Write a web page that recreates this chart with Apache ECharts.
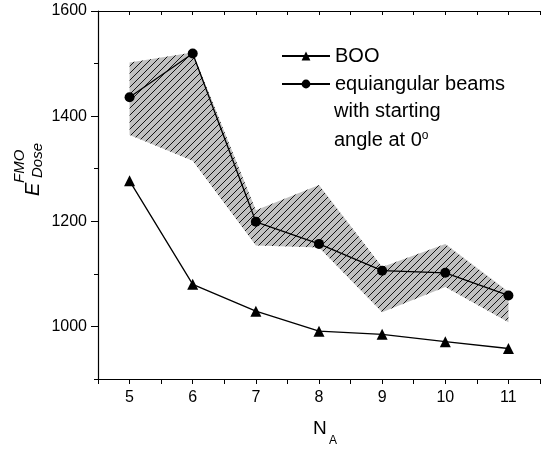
<!DOCTYPE html>
<html>
<head>
<meta charset="utf-8">
<script src="https://cdn.jsdelivr.net/npm/echarts@6/dist/echarts.min.js"></script>
<style>
  html, body { margin: 0; padding: 0; background: #fff; }
  #chart { width: 543px; height: 449px; }
</style>
</head>
<body>
<div id="chart"></div>
<script>
var nA = [5, 6, 7, 8, 9, 10, 11];
var boo = [1277, 1080, 1029, 991, 985, 971, 958];
var equi = [1436, 1519, 1199, 1157, 1106, 1102, 1059];
var bandLow = [1364, 1315, 1154, 1150, 1027, 1075, 1008];
var bandHigh = [1502, 1521, 1221, 1269, 1113, 1157, 1066];
var yMajor = [1000, 1200, 1400, 1600];

var font = "Arial, 'Liberation Sans', sans-serif";

// hatch pattern for the band
var pat = document.createElement("canvas");
pat.width = 7;
pat.height = 7;
var ctx = pat.getContext("2d");
ctx.fillStyle = "#c0c0c0";
ctx.fillRect(0, 0, 7, 7);
ctx.strokeStyle = "#000";
ctx.lineWidth = 0.9;
ctx.beginPath();
ctx.moveTo(-1, 8); ctx.lineTo(8, -1);
ctx.moveTo(-1, 1); ctx.lineTo(1, -1);
ctx.moveTo(6, 8); ctx.lineTo(8, 6);
ctx.stroke();

function pairs(ys) {
  return nA.map(function (x, i) { return [x, ys[i]]; });
}

function renderBand(params, api) {
  if (params.dataIndex !== 0) return;
  var pts = [];
  for (var i = 0; i < nA.length; i++) pts.push(api.coord([nA[i], bandHigh[i]]));
  for (var j = nA.length - 1; j >= 0; j--) pts.push(api.coord([nA[j], bandLow[j]]));
  return {
    type: "polygon",
    shape: { points: pts },
    style: { fill: { image: pat, repeat: "repeat" }, stroke: null }
  };
}

var myChart = echarts.init(document.getElementById("chart"));
myChart.setOption({
  animation: false,
  grid: { left: 98, top: 11, right: -8, bottom: 70 },
  xAxis: [
    {
      type: "value", min: 4.5, max: 11.5, interval: 0.5,
      axisLine: { lineStyle: { color: "#000", width: 1.2 } },
      axisTick: { inside: false, length: 5, lineStyle: { color: "#000" } },
      axisLabel: {
        margin: 11, fontSize: 16, color: "#000", fontFamily: font,
        formatter: function (v) { return v % 1 === 0 ? String(v) : ""; }
      },
      splitLine: { show: false }
    },
    {
      type: "value", position: "top", min: 4.5, max: 11.5, interval: 0.5,
      axisLine: { lineStyle: { color: "#000", width: 1.2 } },
      axisTick: { inside: true, length: 4, lineStyle: { color: "#000" } },
      axisLabel: { show: false },
      splitLine: { show: false }
    }
  ],
  yAxis: [
    {
      type: "value", min: 900, max: 1600, interval: 100,
      axisLine: { show: true, lineStyle: { color: "#000", width: 1.2 } },
      axisTick: { show: true, length: 7, customValues: yMajor, lineStyle: { color: "#000" } },
      axisLabel: {
        margin: 11, fontSize: 16, color: "#000", fontFamily: font,
        customValues: yMajor,
        formatter: function (v) { return String(v); }
      },
      splitLine: { show: false }
    },
    {
      type: "value", min: 900, max: 1600, interval: 100, position: "left",
      axisLine: { show: false },
      axisTick: { show: true, length: 4, lineStyle: { color: "#000" } },
      axisLabel: { show: false },
      splitLine: { show: false }
    }
  ],
  legend: {
    orient: "vertical", left: 276, top: 41,
    itemWidth: 48, itemHeight: 11, itemGap: 8,
    textStyle: { fontSize: 20, color: "#000", fontFamily: font },
    data: ["BOO", "equiangular beams"]
  },
  series: [
    {
      name: "band", type: "custom", data: pairs(bandHigh),
      encode: { x: 0, y: 1 }, renderItem: renderBand, silent: true, z: 1
    },
    {
      name: "BOO", type: "line", data: pairs(boo),
      symbol: "triangle", symbolSize: 11,
      itemStyle: { color: "#000" }, lineStyle: { color: "#000", width: 1.3 }, z: 3
    },
    {
      name: "equiangular beams", type: "line", data: pairs(equi),
      symbol: "circle", symbolSize: 10,
      itemStyle: { color: "#000" }, lineStyle: { color: "#000", width: 1.3 }, z: 3
    }
  ],
  graphic: [
    {
      type: "text", left: 334, top: 101,
      style: { text: "with starting", fontSize: 20, fill: "#000", fontFamily: font }
    },
    {
      type: "text", left: 334, top: 130,
      style: {
        text: "{a|angle at 0}{s|o}",
        rich: {
          a: { fontSize: 20, fill: "#000", fontFamily: font, verticalAlign: "bottom" },
          s: { fontSize: 12, fill: "#000", fontFamily: font, verticalAlign: "top" }
        }
      }
    },
    {
      type: "text", x: 313, y: 429,
      style: { text: "N", fontSize: 19, fill: "#000", fontFamily: font, verticalAlign: "middle" }
    },
    {
      type: "text", x: 329, y: 441,
      style: { text: "A", fontSize: 12, fill: "#000", fontFamily: font, verticalAlign: "middle" }
    },
    {
      type: "group", x: 33, y: 196, rotation: Math.PI / 2,
      children: [
        {
          type: "text", x: 0, y: 0,
          style: { text: "E", fontSize: 20, fontStyle: "italic", fill: "#000", fontFamily: font, verticalAlign: "middle" }
        },
        {
          type: "text", x: 13, y: -13,
          style: { text: "FMO", fontSize: 15, fontStyle: "italic", fill: "#000", fontFamily: font, verticalAlign: "middle" }
        },
        {
          type: "text", x: 18, y: 5,
          style: { text: "Dose", fontSize: 15, fontStyle: "italic", fill: "#000", fontFamily: font, verticalAlign: "middle" }
        }
      ]
    }
  ]
});
</script>
</body>
</html>
